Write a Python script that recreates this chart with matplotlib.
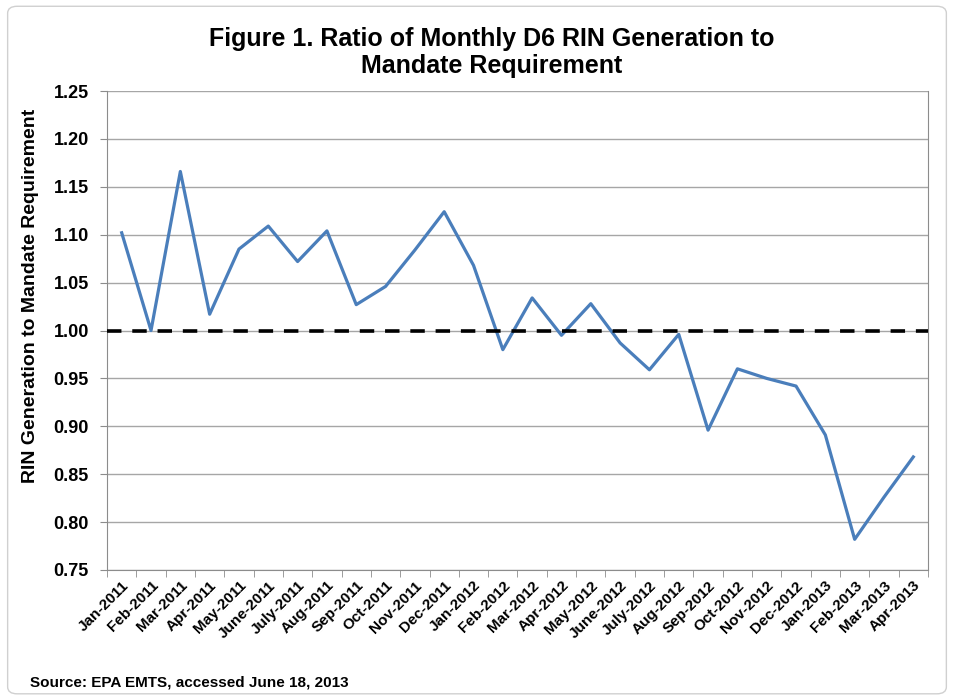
import matplotlib
matplotlib.use("Agg")
import matplotlib.pyplot as plt
import numpy as np
from matplotlib.patches import FancyBboxPatch

plt.rcParams['font.family'] = ['Liberation Sans', 'DejaVu Sans']

months = ["Jan-2011", "Feb-2011", "Mar-2011", "Apr-2011", "May-2011", "June-2011",
          "July-2011", "Aug-2011", "Sep-2011", "Oct-2011", "Nov-2011", "Dec-2011",
          "Jan-2012", "Feb-2012", "Mar-2012", "Apr-2012", "May-2012", "June-2012",
          "July-2012", "Aug-2012", "Sep-2012", "Oct-2012", "Nov-2012", "Dec-2012",
          "Jan-2013", "Feb-2013", "Mar-2013", "Apr-2013"]
ratio = [1.102, 1.000, 1.166, 1.017, 1.085, 1.109, 1.072, 1.104, 1.027, 1.046,
         1.084, 1.124, 1.068, 0.980, 1.034, 0.995, 1.028, 0.987, 0.959, 0.996,
         0.896, 0.960, 0.950, 0.942, 0.891, 0.782, 0.826, 0.868]
mandate = 1.00
yticks = [0.75, 0.80, 0.85, 0.90, 0.95, 1.00, 1.05, 1.10, 1.15, 1.20, 1.25]

fig = plt.figure(figsize=(9.54, 6.98), dpi=100)
ax = fig.add_axes([0.1122, 0.1834, 0.8605, 0.6862])

# rounded frame round the whole chart
frame = FancyBboxPatch((0.008, 0.006), 0.984, 0.985, boxstyle="round,pad=0,rounding_size=0.01",
                       transform=fig.transFigure, fill=False, edgecolor="#d0d0d0", linewidth=1.0)
fig.patches.append(frame)

x = np.arange(len(months))
ax.plot(x, ratio, color="#4a7ebb", linewidth=2.3, zorder=3)
ax.axhline(mandate, color="black", linewidth=2.6, linestyle=(0, (4, 3)), zorder=4)

ax.set_xlim(-0.5, len(months) - 0.5)
ax.set_ylim(0.75, 1.25)
ax.set_yticks(yticks)
ax.set_yticklabels([f"{v:.2f}" for v in yticks], fontsize=13, fontweight="bold")
ax.yaxis.grid(True, color="#a6a6a6", linewidth=1.0)
ax.set_axisbelow(True)

ax.set_xticks(x)
ax.set_xticklabels(months, rotation=45, ha="right", rotation_mode="anchor",
                   fontsize=11, fontweight="bold")
ax.tick_params(axis="x", length=0, pad=6)
ax.set_xticks(np.arange(-0.5, len(months)), minor=True)
ax.tick_params(axis="x", which="minor", length=5, color="#8c8c8c")
ax.tick_params(axis="y", length=5, color="#8c8c8c", pad=8)

for s in ax.spines.values():
    s.set_color("#8c8c8c")
ax.spines["top"].set_visible(False)

ax.set_ylabel("RIN Generation to Mandate Requirement", fontsize=14, fontweight="bold")
ax.yaxis.set_label_coords(-0.083, 0.572)  # sits a bit above centre like the original

fig.text(0.515, 0.925, "Figure 1. Ratio of Monthly D6 RIN Generation to\nMandate Requirement",
         ha="center", va="center", fontsize=18, fontweight="bold", linespacing=1.15)
fig.text(0.031, 0.0158, "Source: EPA EMTS, accessed June 18, 2013", fontsize=11,
         fontweight="bold", va="baseline")

fig.savefig("out.png", dpi=100)
